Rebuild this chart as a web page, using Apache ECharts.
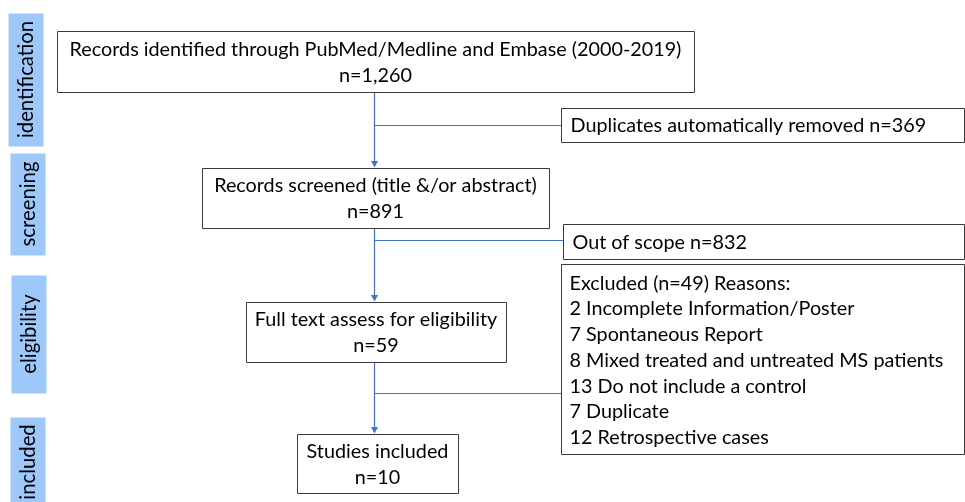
<!DOCTYPE html>
<html>
<head>
<meta charset="utf-8">
<script src="https://cdn.jsdelivr.net/npm/echarts@6/dist/echarts.min.js"></script>
<style>
    html, body { margin: 0; padding: 0; background: #fff; }
    #chart { width: 965px; height: 502px; }
</style>
</head>
<body>
<div id="chart"></div>
<script>
    // ---- data ----
    const stages = ['identification', 'screening', 'eligibility', 'included'];
    const mainSteps = [
        'Records identified through PubMed/Medline and Embase (2000-2019)',
        'Records screened (title &/or abstract)',
        'Full text assess for eligibility',
        'Studies included'
    ];
    const mainCounts = [1260, 891, 59, 10];
    const sideSteps = ['Duplicates automatically removed', 'Out of scope'];
    const sideCounts = [369, 832];
    const excludedTotal = 49;
    const reasonCounts = [2, 7, 8, 13, 7, 12];
    const reasonLabels = [
        'Incomplete Information/Poster',
        'Spontaneous Report',
        'Mixed treated and untreated MS patients',
        'Do not include a control',
        'Duplicate',
        'Retrospective cases'
    ];

    // ---- layout (axis units = page pixels) [x, y, w, h] ----
    const stageBoxes = [[8, 13, 35, 133], [10, 153, 35, 102], [11, 275, 35, 118], [10, 417, 35, 90]];
    const mainBoxes = [[57, 31, 637, 61], [202, 168, 347, 60], [246, 302, 260, 60], [297, 434, 161, 59]];
    const sideBoxes = [[561, 108, 403, 34], [563, 224, 401, 35], [561, 264, 403, 190]];
    const spineX = 374;
    const branchY = [125, 240, 393];

    const FONT = '19.8px Lato, "Open Sans", sans-serif';
    const STAGE_FONT = '20.3px Lato, "Open Sans", sans-serif';
    const LINE = '#4472C4';
    const BORDER = '#3a3a3a';

    const fmt = n => n.toLocaleString('en-US');

    function rectShape(api, b) {
        const p0 = api.coord([b[0], b[1]]);
        const p1 = api.coord([b[0] + b[2], b[1] + b[3]]);
        return {
            x: Math.round(p0[0]) + 0.5, y: Math.round(p0[1]) + 0.5,
            width: Math.round(p1[0] - p0[0]), height: Math.round(p1[1] - p0[1])
        };
    }

    function renderStage(params, api) {
        const b = stageBoxes[params.dataIndex];
        const s = rectShape(api, b);
        const c = api.coord([b[0] + b[2] / 2, b[1] + b[3] / 2]);
        return {
            type: 'group',
            children: [
                { type: 'rect', shape: s, style: { fill: '#9DC8F9' } },
                {
                    type: 'text', x: c[0] + 1, y: c[1], rotation: Math.PI / 2,
                    style: { text: stages[params.dataIndex], font: STAGE_FONT, fill: '#000', align: 'center', verticalAlign: 'middle' }
                }
            ]
        };
    }

    function renderMain(params, api) {
        const i = params.dataIndex;
        const b = mainBoxes[i];
        const s = rectShape(api, b);
        const c = api.coord([b[0] + b[2] / 2, b[1] + b[3] / 2]);
        return {
            type: 'group',
            children: [
                { type: 'rect', shape: s, style: { fill: '#fff', stroke: BORDER, lineWidth: 1 } },
                {
                    type: 'text', x: c[0], y: c[1] + 1,
                    style: {
                        text: mainSteps[i] + '\nn=' + fmt(api.value(1)),
                        font: FONT, lineHeight: 26, fill: '#000', align: 'center', verticalAlign: 'middle'
                    }
                }
            ]
        };
    }

    function renderSide(params, api) {
        const i = params.dataIndex;
        const b = sideBoxes[i];
        const s = rectShape(api, b);
        if (i < sideSteps.length) {
            const y = api.coord([0, b[1] + b[3] / 2])[1] + 1;
            return {
                type: 'group',
                children: [
                    { type: 'rect', shape: s, style: { fill: '#fff', stroke: BORDER, lineWidth: 1 } },
                    {
                        type: 'text', x: s.x + 9, y: y,
                        style: { text: sideSteps[i] + ' n=' + sideCounts[i], font: FONT, fill: '#000', align: 'left', verticalAlign: 'middle' }
                    }
                ]
            };
        }
        const lines = ['Excluded (n=' + excludedTotal + ') Reasons:']
            .concat(reasonLabels.map((l, k) => reasonCounts[k] + ' ' + l));
        return {
            type: 'group',
            children: [
                { type: 'rect', shape: s, style: { fill: '#fff', stroke: BORDER, lineWidth: 1 } },
                {
                    type: 'text', x: s.x + 8, y: s.y + 6,
                    style: { text: lines.join('\n'), font: FONT, lineHeight: 25.7, fill: '#000', align: 'left', verticalAlign: 'top' }
                }
            ]
        };
    }

    function renderLinks(params, api) {
        const i = params.dataIndex;
        const top = api.coord([spineX, mainBoxes[i][1] + mainBoxes[i][3]]);
        const bot = api.coord([spineX, mainBoxes[i + 1][1]]);
        const br = api.coord([spineX, branchY[i]]);
        const side = api.coord([sideBoxes[i][0], branchY[i]]);
        const x = Math.round(top[0]) + 0.5;
        const ls = { stroke: LINE, lineWidth: 1.2, fill: null };
        return {
            type: 'group',
            children: [
                { type: 'line', shape: { x1: x, y1: top[1], x2: x, y2: bot[1] - 6 }, style: ls },
                { type: 'polygon', shape: { points: [[x - 3.5, bot[1] - 7], [x + 3.5, bot[1] - 7], [x, bot[1] - 0.5]] }, style: { fill: LINE } },
                { type: 'line', shape: { x1: x, y1: Math.round(br[1]) + 0.5, x2: side[0], y2: Math.round(br[1]) + 0.5 }, style: ls }
            ]
        };
    }

    const chart = echarts.init(document.getElementById('chart'));
    chart.setOption({
        animation: false,
        grid: { left: 0, right: 0, top: 0, bottom: 0 },
        xAxis: { type: 'value', min: 0, max: 965, show: false },
        yAxis: { type: 'value', min: 0, max: 502, inverse: true, show: false },
        series: [
            { type: 'custom', renderItem: renderLinks, data: [0, 1, 2].map(i => [i, mainCounts[i]]), z: 1 },
            { type: 'custom', renderItem: renderMain, data: mainCounts.map((c, i) => [i, c]), z: 2 },
            { type: 'custom', renderItem: renderSide, data: sideCounts.concat([excludedTotal]).map((c, i) => [i, c]), z: 2 },
            { type: 'custom', renderItem: renderStage, data: stages.map((s, i) => [i, 0]), z: 2 }
        ]
    });
</script>
</body>
</html>
